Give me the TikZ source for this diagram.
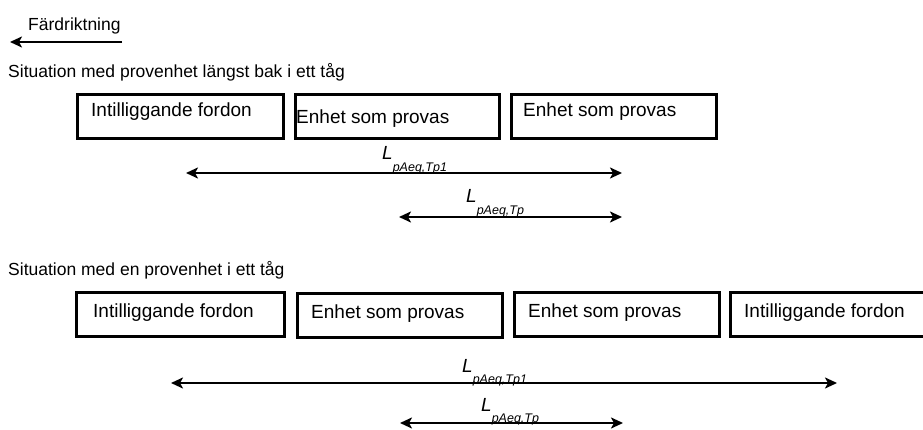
\documentclass[tikz,border=0pt]{standalone}
\usepackage{fontspec}
\setmainfont{Liberation Sans}
\usepackage{tikz}
\usetikzlibrary{arrows.meta,calc,positioning}
\tikzset{
%Define standard arrow tip
>={Stealth[length=12pt,width=11pt,inset=3pt]},
%Styles for boxes, texts and measure lines
car/.style={draw, line width=2.8pt, minimum width=#1, minimum height=44pt, inner sep=0pt, anchor=north west},
cartext/.style={font=\fontsize{19}{22}\selectfont, anchor=west, inner sep=0pt},
heading/.style={font=\fontsize{17.5}{20}\selectfont, anchor=west, inner sep=0pt},
measure/.style={<->, line width=2.8pt},
lvl/.style={anchor=base west, inner sep=0pt},
}
\newcommand\Lsub[1]{\textit{\fontsize{19}{20}\selectfont L\raisebox{-1.1ex}{\fontsize{12.5}{13}\selectfont #1}}}

\begin{document}
\begin{tikzpicture}[x=1pt,y=-1pt]
    \useasboundingbox (0,0) rectangle (923,430);
    \clip (0,0) rectangle (923,430);
    %Direction of travel
    \node[heading] (dir) at (28,26) {Färdriktning};
    \coordinate (dirs) at (122,42);
    \coordinate (dire) at (10,42);
    \draw[->, line width=2.8pt] (dirs) -- (dire);

    %%%%%%%%%%%%%%%%%%%%%%
    %First situation
    %%%%%%%%%%%%%%%%%%%%%%
    \node[heading] (sita) at (8,72) {Situation med provenhet längst bak i ett tåg};
    \node[car=206pt] (a1) at (76,93) {};
    \node[car=204pt] (a2) at (294,93) {};
    \node[car=205pt] (a3) at (510,93) {};
    \node[cartext] at ([xshift=15pt,yshift=5pt]a1.west) {Intilliggande fordon};
    \node[cartext] at ([xshift=2pt,yshift=-2pt]a2.west) {Enhet som provas};
    \node[cartext] at ([xshift=13pt,yshift=5pt]a3.west) {Enhet som provas};
    %% These coordinates decide where the measure lines start and end
    \coordinate (a1l) at (186,173);
    \coordinate (a1r) at (622,173);
    \coordinate (a2l) at (399,217);
    \coordinate (a2r) at (622,217);
    \draw[measure] (a1l) -- (a1r);
    \draw[measure] (a2l) -- (a2r);
    \node[lvl] (la1) at (382,160) {\Lsub{pAeq,Tp1}};
    \node[lvl] (la2) at (466,203) {\Lsub{pAeq,Tp}};

    %%%%%%%%%%%%%%%%%%%%%%
    %Second situation
    %%%%%%%%%%%%%%%%%%%%%%
    \node[heading] (sitb) at (8,270) {Situation med en provenhet i ett tåg};
    \node[car=208pt] (b1) at (75,291) {};
    \node[car=205pt] (b2) at (296,292) {};
    \node[car=205pt] (b3) at (513,291) {};
    \node[car=210pt] (b4) at (729,291) {};
    \node[cartext] at ([xshift=18pt,yshift=2pt]b1.west) {Intilliggande fordon};
    \node[cartext] at ([xshift=15pt,yshift=2pt]b2.west) {Enhet som provas};
    \node[cartext] at ([xshift=15pt,yshift=2pt]b3.west) {Enhet som provas};
    \node[cartext] at ([xshift=15pt,yshift=2pt]b4.west) {Intilliggande fordon};
    \coordinate (b1l) at (171,383);
    \coordinate (b1r) at (837,383);
    \coordinate (b2l) at (400,423);
    \coordinate (b2r) at (623,423);
    \draw[measure] (b1l) -- (b1r);
    \draw[measure] (b2l) -- (b2r);
    \node[lvl] (lb1) at (462,372) {\Lsub{pAeq,Tp1}};
    \node[lvl] (lb2) at (481,411) {\Lsub{pAeq,Tp}};
\end{tikzpicture}
\end{document}
